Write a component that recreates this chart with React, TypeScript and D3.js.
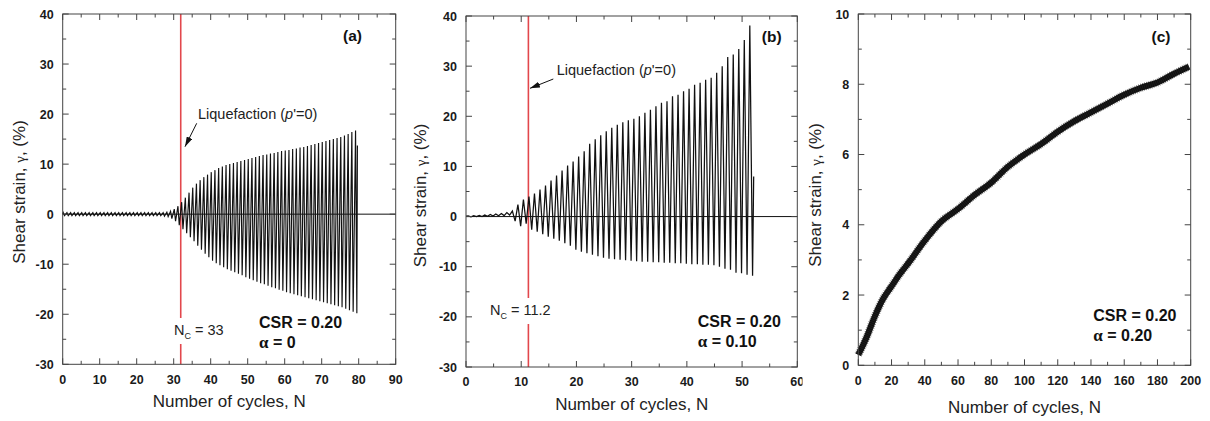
import React from 'react';
import * as d3 from 'd3';

// ---------------- DATA ----------------
// Panel (a): per-cycle peak strains (%) for N = 0..79
const aUpper = [
  0.3, 0.3, 0.3, 0.3, 0.3, 0.3, 0.3, 0.3, 0.3, 0.3,
  0.3, 0.3, 0.3, 0.3, 0.3, 0.3, 0.3, 0.3, 0.3, 0.3,
  0.3, 0.3, 0.3, 0.3, 0.3, 0.3, 0.3, 0.3, 0.4, 0.6,
  1.0, 1.6, 2.4, 3.3, 4.3, 5.3, 6.1, 6.8, 7.4, 7.9,
  8.4, 8.8, 9.2, 9.5, 9.8, 10.0, 10.2, 10.4, 10.6, 10.8,
  11.0, 11.2, 11.4, 11.6, 11.8, 11.9, 12.1, 12.2, 12.4, 12.6,
  12.7, 12.8, 13.0, 13.1, 13.3, 13.4, 13.6, 13.8, 14.0, 14.2,
  14.4, 14.6, 14.8, 15.0, 15.2, 15.4, 15.7, 16.0, 16.4, 16.7,
];
const aLower = [
  -0.3, -0.3, -0.3, -0.3, -0.3, -0.3, -0.3, -0.3, -0.3, -0.3,
  -0.3, -0.3, -0.3, -0.3, -0.3, -0.3, -0.3, -0.3, -0.3, -0.3,
  -0.3, -0.3, -0.3, -0.3, -0.3, -0.3, -0.3, -0.4, -0.5, -0.9,
  -1.4, -2.2, -3.0, -3.8, -4.6, -5.4, -6.3, -7.1, -7.9, -8.6,
  -9.3, -9.8, -10.2, -10.6, -11.0, -11.3, -11.6, -11.9, -12.2, -12.6,
  -12.9, -13.2, -13.5, -13.8, -14.0, -14.3, -14.6, -14.8, -15.1, -15.3,
  -15.6, -15.8, -16.0, -16.2, -16.4, -16.6, -16.8, -17.0, -17.2, -17.4,
  -17.6, -17.8, -18.0, -18.2, -18.4, -18.6, -18.9, -19.2, -19.5, -19.8,
];
const aEnd: [number, number] = [79.65, 13.7];

// Panel (b): per-cycle peak strains (%) for N = 0..51
const bUpper = [
  0.15, 0.2, 0.25, 0.3, 0.4, 0.5, 0.6, 0.8, 1.1, 2.4,
  3.4, 4.0, 4.6, 5.4, 6.2, 7.2, 8.2, 9.2, 10.2, 11.0,
  12.0, 13.0, 14.5, 15.4, 16.2, 17.0, 17.7, 18.3, 18.8, 19.2,
  19.5, 20.0, 20.7, 21.3, 22.0, 22.7, 23.0, 24.0, 24.3, 25.0,
  25.5, 26.3, 26.7, 27.3, 27.7, 28.7, 30.0, 31.8, 32.3, 33.4,
  35.2, 38.1,
];
const bLower = [
  -0.05, 0.0, 0.0, 0.05, 0.1, 0.15, 0.2, 0.3, -0.9, -1.9,
  -1.4, -2.6, -3.0, -3.5, -4.0, -4.4, -4.8, -5.3, -5.8, -6.6,
  -7.0, -7.3, -7.6, -7.9, -8.2, -8.4, -8.5, -8.6, -8.7, -8.8,
  -8.9, -9.0, -9.0, -9.1, -9.1, -9.2, -9.2, -9.3, -9.3, -9.4,
  -9.5, -9.5, -9.6, -9.6, -9.7, -10.0, -10.4, -10.6, -11.2, -11.3,
  -11.6, -11.8,
];
const bEnd: [number, number] = [52.1, 8.0];

// Panel (c): mean shear strain (%) vs cycles
const cCycles = [0, 5, 10, 15, 20, 25, 30, 40, 50, 60, 70, 80, 90, 100, 110, 120, 130, 140, 150, 160, 170, 180, 190, 199];
const cStrain = [0.3, 0.8, 1.4, 1.9, 2.25, 2.6, 2.9, 3.55, 4.1, 4.45, 4.85, 5.2, 5.65, 6.0, 6.3, 6.65, 6.95, 7.2, 7.45, 7.7, 7.9, 8.05, 8.3, 8.5];

// Ticks
const abYTicks = [-30, -20, -10, 0, 10, 20, 30, 40];
const aXTicks = [0, 10, 20, 30, 40, 50, 60, 70, 80, 90];
const bXTicks = [0, 10, 20, 30, 40, 50, 60];
const cXTicks = [0, 20, 40, 60, 80, 100, 120, 140, 160, 180, 200];
const cYTicks = [0, 2, 4, 6, 8, 10];

// Annotation values
const aLiqN = 31.9;
const bLiqN = 11.3;

// ---------------- DRAWING ----------------
const FONT = "'Liberation Sans', Arial, Helvetica, sans-serif";
const SERIF = "'Liberation Serif', 'Times New Roman', serif";
const RED = '#e2474c';

type Geo = { l: number; r: number; t: number; b: number };

function cyclic(upper: number[], lower: number[], upOff: number, loOff: number, start: number, end: [number, number]) {
  const pts: [number, number][] = [[0, start]];
  upper.forEach((u, i) => {
    pts.push([i + upOff, u]);
    pts.push([i + loOff, lower[i]]);
  });
  pts.push(end);
  return pts;
}

function Frame({ g, x, y, xMajor, xMinor, yMajor, yMinor, xLabels, yLabels, xLabelY }: any) {
  const maj = 6, min = 3.5;
  const stroke = '#444';
  return (
    <g>
      {xMajor.map((v: number) => (
        <g key={'xM' + v}>
          <line x1={x(v)} x2={x(v)} y1={g.b} y2={g.b - maj} stroke={stroke} />
          <line x1={x(v)} x2={x(v)} y1={g.t} y2={g.t + maj} stroke={stroke} />
        </g>
      ))}
      {xMinor.map((v: number) => (
        <g key={'xm' + v}>
          <line x1={x(v)} x2={x(v)} y1={g.b} y2={g.b - min} stroke={stroke} />
          <line x1={x(v)} x2={x(v)} y1={g.t} y2={g.t + min} stroke={stroke} />
        </g>
      ))}
      {yMajor.map((v: number) => (
        <g key={'yM' + v}>
          <line x1={g.l} x2={g.l + maj} y1={y(v)} y2={y(v)} stroke={stroke} />
          <line x1={g.r} x2={g.r - maj} y1={y(v)} y2={y(v)} stroke={stroke} />
        </g>
      ))}
      {yMinor.map((v: number) => (
        <g key={'ym' + v}>
          <line x1={g.l} x2={g.l + min} y1={y(v)} y2={y(v)} stroke={stroke} />
          <line x1={g.r} x2={g.r - min} y1={y(v)} y2={y(v)} stroke={stroke} />
        </g>
      ))}
      <rect x={g.l} y={g.t} width={g.r - g.l} height={g.b - g.t} fill="none" stroke={stroke} strokeWidth={1} />
      {xLabels.map((v: number) => (
        <text key={'xl' + v} x={x(v)} y={xLabelY} textAnchor="middle" fontFamily={FONT} fontWeight="bold" fontSize={12.5} fill="#1a1a1a">{v}</text>
      ))}
      {yLabels.map((v: number) => (
        <text key={'yl' + v} x={g.l - 9} y={y(v) + 4.5} textAnchor="end" fontFamily={FONT} fontWeight="bold" fontSize={12.5} fill="#1a1a1a">{v}</text>
      ))}
    </g>
  );
}

function minorBetween(major: number[]) {
  const out: number[] = [];
  for (let i = 0; i < major.length - 1; i++) out.push((major[i] + major[i + 1]) / 2);
  return out;
}

function Titles({ cx, xTitleY, yTitleX, yTitleY }: any) {
  return (
    <g fontFamily={FONT} fontSize={17} fill="#222">
      <text x={cx} y={xTitleY} textAnchor="middle">Number of cycles, N</text>
      <text transform={`translate(${yTitleX},${yTitleY}) rotate(-90)`} textAnchor="middle">
        Shear strain, <tspan fontFamily={SERIF} fontSize={15}>γ</tspan>, (%)
      </text>
    </g>
  );
}

function Liq({ x, y, ax1, ay1, ax2, ay2, id }: any) {
  return (
    <g>
      <defs>
        <marker id={id} viewBox="0 0 10 6" refX="10" refY="3" markerWidth="10" markerHeight="6" markerUnits="userSpaceOnUse" orient="auto">
          <path d="M0,0 L10,3 L0,6 Z" fill="#111" />
        </marker>
      </defs>
      <line x1={ax1} y1={ay1} x2={ax2} y2={ay2} stroke="#111" strokeWidth={1} markerEnd={`url(#${id})`} />
      <text x={x} y={y} fontFamily={FONT} fontSize={14.5} fill="#222">
        Liquefaction (<tspan fontStyle="italic">p</tspan>'=0)
      </text>
    </g>
  );
}

function NcLabel({ x, y, value }: any) {
  return (
    <g>
      <rect x={x - 2} y={y - 17} width={value.length * 8 + 30} height={26} fill="#fff" />
      <text x={x} y={y} fontFamily={FONT} fontSize={14.5} fill="#222">
        N<tspan fontSize={9} dy={4}>C</tspan><tspan dy={-4}> = {value}</tspan>
      </text>
    </g>
  );
}

function CsrLabel({ x, y, alpha }: any) {
  return (
    <g fontFamily={FONT} fontWeight="bold" fontSize={16} fill="#111">
      <text x={x} y={y}>CSR = 0.20</text>
      <text x={x} y={y + 20}><tspan fontFamily={SERIF} fontSize={17}>α</tspan> = {alpha}</text>
    </g>
  );
}

function PanelA() {
  const g: Geo = { l: 62.7, r: 395.7, t: 14, b: 364.3 };
  const x = d3.scaleLinear().domain([0, 90]).range([g.l, g.r]);
  const y = d3.scaleLinear().domain([-30, 40]).range([g.b, g.t]);
  const pts = cyclic(aUpper, aLower, 0.15, 0.5, 0, aEnd);
  const line = d3.line<[number, number]>().x((d) => x(d[0])).y((d) => y(d[1]));
  return (
    <g>
      <line x1={x(aLiqN)} x2={x(aLiqN)} y1={g.t} y2={g.b} stroke={RED} strokeWidth={1.6} />
      <NcLabel x={174} y={335} value="33" />
      <line x1={g.l} x2={g.r} y1={y(0)} y2={y(0)} stroke="#111" strokeWidth={1} />
      <path d={line(pts) || ''} fill="none" stroke="#111" strokeWidth={1.15} />
      <Frame g={g} x={x} y={y} xMajor={aXTicks} xMinor={minorBetween(aXTicks)} yMajor={abYTicks} yMinor={minorBetween(abYTicks)}
        xLabels={aXTicks} yLabels={abYTicks} xLabelY={383.5} />
      <Titles cx={(g.l + g.r) / 2} xTitleY={407} yTitleX={24.5} yTitleY={192} />
      <text x={352.5} y={41} textAnchor="middle" fontFamily={FONT} fontWeight="bold" fontSize={15.5} fill="#111">(a)</text>
      <Liq x={198} y={119} ax1={196.7} ay1={123.3} ax2={185} ay2={146.7} id="arrA" />
      <CsrLabel x={259} y={327.5} alpha="0" />
    </g>
  );
}

function PanelB() {
  const g: Geo = { l: 466, r: 797.3, t: 16, b: 367 };
  const x = d3.scaleLinear().domain([0, 60]).range([g.l, g.r]);
  const y = d3.scaleLinear().domain([-30, 40]).range([g.b, g.t]);
  const pts = cyclic(bUpper, bLower, 0.4, 0.9, 0.1, bEnd);
  const line = d3.line<[number, number]>().x((d) => x(d[0])).y((d) => y(d[1]));
  return (
    <g clipPath="url(#clipB)">
      <defs>
        <clipPath id="clipB"><rect x={400} y={0} width={402.5} height={421} /></clipPath>
      </defs>
      <line x1={x(bLiqN)} x2={x(bLiqN)} y1={g.t} y2={g.b} stroke={RED} strokeWidth={1.6} />
      <NcLabel x={490} y={315} value="11.2" />
      <line x1={g.l} x2={g.r} y1={y(0)} y2={y(0)} stroke="#111" strokeWidth={1} />
      <path d={line(pts) || ''} fill="none" stroke="#111" strokeWidth={1.25} />
      <Frame g={g} x={x} y={y} xMajor={bXTicks} xMinor={minorBetween(bXTicks)} yMajor={abYTicks} yMinor={minorBetween(abYTicks)}
        xLabels={bXTicks} yLabels={abYTicks} xLabelY={386} />
      <Titles cx={(g.l + g.r) / 2} xTitleY={410} yTitleX={426} yTitleY={195.5} />
      <text x={771.7} y={42} textAnchor="middle" fontFamily={FONT} fontWeight="bold" fontSize={15.5} fill="#111">(b)</text>
      <Liq x={556.7} y={75} ax1={553.3} ay1={79} ax2={530} ay2={88.3} id="arrB" />
      <CsrLabel x={697.7} y={327} alpha="0.10" />
    </g>
  );
}

function PanelC() {
  const g: Geo = { l: 858.3, r: 1190.7, t: 14, b: 365.3 };
  const x = d3.scaleLinear().domain([0, 200]).range([g.l, g.r]);
  const y = d3.scaleLinear().domain([0, 10]).range([g.b, g.t]);
  const pts: [number, number][] = cCycles.map((c, i) => [c, cStrain[i]]);
  const line = d3.line<[number, number]>().x((d) => x(d[0])).y((d) => y(d[1])).curve(d3.curveMonotoneX);
  const yMinor = [1, 3, 5, 7, 9];
  const xMinor = minorBetween(cXTicks);
  return (
    <g>
      <path d={line(pts) || ''} fill="none" stroke="#1a1a1a" strokeWidth={6} strokeLinecap="butt" />
      <path d={line(pts) || ''} fill="none" stroke="#000" strokeWidth={8} strokeDasharray="0.8 1.2" strokeOpacity={0.55} />
      <Frame g={g} x={x} y={y} xMajor={cXTicks} xMinor={xMinor} yMajor={cYTicks} yMinor={yMinor}
        xLabels={cXTicks} yLabels={cYTicks} xLabelY={384.5} />
      <Titles cx={(g.l + g.r) / 2} xTitleY={412.5} yTitleX={821} yTitleY={195} />
      <text x={1161} y={42} textAnchor="middle" fontFamily={FONT} fontWeight="bold" fontSize={15.5} fill="#111">(c)</text>
      <CsrLabel x={1093.3} y={321} alpha="0.20" />
    </g>
  );
}

export default function App() {
  return (
    <svg width={1210} height={421} style={{ position: 'absolute', left: 0, top: 0, background: '#fff' }}>
      <rect x={0} y={0} width={1210} height={421} fill="#fff" />
      <PanelA />
      <PanelB />
      <PanelC />
    </svg>
  );
}
